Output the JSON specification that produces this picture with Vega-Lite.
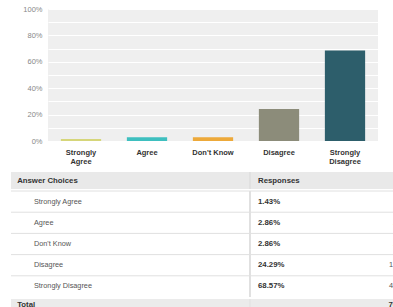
{
  "$schema": "https://vega.github.io/schema/vega-lite/v6.json",
  "padding": {"left": 10, "top": 5, "right": 0, "bottom": 0},
  "autosize": {"type": "pad"},
  "config": {"view": {"stroke": null}, "font": "Liberation Sans"},
  "datasets": {
    "survey": [
      {"choice": "Strongly Agree", "share": 0.0143, "count": 1},
      {"choice": "Agree", "share": 0.0286, "count": 2},
      {"choice": "Don't Know", "share": 0.0286, "count": 2},
      {"choice": "Disagree", "share": 0.2429, "count": 17},
      {"choice": "Strongly Disagree", "share": 0.6857, "count": 48}
    ],
    "total": [
      {"label": "Total", "count": 70}
    ]
  },
  "spacing": 6,
  "vconcat": [
    {
      "width": 330,
      "height": 132,
      "view": {"fill": "#efefef", "stroke": null},
      "data": {"name": "survey"},
      "mark": {"type": "bar"},
      "encoding": {
        "x": {
          "field": "choice", "type": "nominal", "sort": null,
          "scale": {"domain": ["Strongly Agree", "Agree", "Don't Know", "Disagree", "Strongly Disagree"], "paddingInner": 0.39, "paddingOuter": 0.195},
          "axis": {
            "title": null, "labelAngle": 0, "ticks": false, "domain": false,
            "labelExpr": "indexof(datum.label, 'Strongly') === 0 ? split(datum.label, ' ') : datum.label",
            "labelFont": "Liberation Sans", "labelFontSize": 7.5, "labelFontWeight": "bold",
            "labelColor": "#333333", "labelPadding": 7, "labelLineHeight": 9.5, "labelBaseline": "top"
          }
        },
        "y": {
          "field": "share", "type": "quantitative",
          "scale": {"domain": [0, 1]},
          "axis": {
            "title": null, "values": [0, 0.1, 0.2, 0.3, 0.4, 0.5, 0.6, 0.7, 0.8, 0.9, 1],
            "labelExpr": "round(datum.value * 10) % 2 === 0 ? format(datum.value, '.0%') : ''",
            "ticks": false, "domain": false, "grid": true, "gridColor": "#ffffff", "gridWidth": 1,
            "labelFont": "Liberation Sans", "labelFontSize": 7.5, "labelColor": "#888888", "labelPadding": 6
          }
        },
        "color": {
          "field": "choice", "type": "nominal", "legend": null,
          "scale": {
            "domain": ["Strongly Agree", "Agree", "Don't Know", "Disagree", "Strongly Disagree"],
            "range": ["#d6d67a", "#3ebfbf", "#eda93a", "#8c8c7a", "#2d5e6b"]
          }
        }
      }
    },
    {
      "spacing": 0,
      "vconcat": [
        {
          "width": 346,
          "height": 17,
          "data": {"values": [{"left": "Answer Choices", "right": "Responses"}]},
          "layer": [
            {
              "mark": {"type": "rect", "color": "#e9e9e9"},
              "encoding": {
                "x": {"datum": 0, "type": "quantitative", "scale": {"domain": [0, 100], "range": [-37, 346]}, "axis": null},
                "x2": {"datum": 100}
              }
            },
            {
              "mark": {"type": "rule", "color": "#d8d8d8"},
              "encoding": {"x": {"datum": 62.4, "type": "quantitative"}}
            },
            {
              "mark": {"type": "text", "align": "left", "baseline": "middle", "fontWeight": "bold", "fontSize": 7.8, "color": "#333333"},
              "encoding": {"x": {"datum": 1.6, "type": "quantitative"}, "text": {"field": "left"}}
            },
            {
              "mark": {"type": "text", "align": "left", "baseline": "middle", "fontWeight": "bold", "fontSize": 7.8, "color": "#333333"},
              "encoding": {"x": {"datum": 64.5, "type": "quantitative"}, "text": {"field": "right"}}
            }
          ]
        },
        {
          "width": 346,
          "height": 106,
          "data": {"name": "survey"},
          "layer": [
            {
              "mark": {"type": "rect", "color": "#ffffff"},
              "encoding": {
                "y": {"field": "choice", "type": "nominal", "axis": null,
                  "scale": {"domain": ["Strongly Agree", "Agree", "Don't Know", "Disagree", "Strongly Disagree"], "paddingInner": 0, "paddingOuter": 0}},
                "x": {"datum": 0, "type": "quantitative", "scale": {"domain": [0, 100], "range": [-37, 346]}, "axis": null},
                "x2": {"datum": 100}
              }
            },
            {
              "mark": {"type": "rule", "color": "#e0e0e0"},
              "encoding": {
                "y": {"field": "choice", "type": "nominal", "bandPosition": 0},
                "x": {"datum": 0, "type": "quantitative"},
                "x2": {"datum": 100}
              }
            },
            {
              "mark": {"type": "rule", "color": "#e0e0e0"},
              "encoding": {"x": {"datum": 62.4, "type": "quantitative"}}
            },
            {
              "mark": {"type": "text", "align": "left", "baseline": "middle", "fontSize": 7.3, "color": "#555555"},
              "encoding": {
                "y": {"field": "choice", "type": "nominal"},
                "x": {"datum": 6, "type": "quantitative"},
                "text": {"field": "choice"}
              }
            },
            {
              "mark": {"type": "text", "align": "left", "baseline": "middle", "fontSize": 7.8, "fontWeight": "bold", "color": "#333333"},
              "encoding": {
                "y": {"field": "choice", "type": "nominal"},
                "x": {"datum": 64.5, "type": "quantitative"},
                "text": {"field": "share", "format": ".2%"}
              }
            },
            {
              "mark": {"type": "text", "align": "right", "baseline": "middle", "fontSize": 7.3, "color": "#555555", "clip": true},
              "encoding": {
                "y": {"field": "choice", "type": "nominal"},
                "x": {"datum": 100.8, "type": "quantitative"},
                "text": {"field": "count"}
              }
            }
          ]
        },
        {
          "width": 346,
          "height": 12,
          "data": {"name": "total"},
          "layer": [
            {
              "mark": {"type": "rect", "color": "#ebebeb"},
              "encoding": {
                "x": {"datum": 0, "type": "quantitative", "scale": {"domain": [0, 100], "range": [-37, 346]}, "axis": null},
                "x2": {"datum": 100}
              }
            },
            {
              "mark": {"type": "rule", "color": "#e0e0e0"},
              "encoding": {"x": {"datum": 62.4, "type": "quantitative"}}
            },
            {
              "mark": {"type": "text", "align": "left", "baseline": "middle", "fontSize": 7.8, "fontWeight": "bold", "color": "#333333"},
              "encoding": {
                "x": {"datum": 1.6, "type": "quantitative"},
                "text": {"field": "label"}
              }
            },
            {
              "mark": {"type": "text", "align": "right", "baseline": "middle", "fontSize": 7.8, "fontWeight": "bold", "color": "#333333", "clip": true},
              "encoding": {
                "x": {"datum": 100.8, "type": "quantitative"},
                "text": {"field": "count"}
              }
            }
          ]
        }
      ]
    }
  ]
}
